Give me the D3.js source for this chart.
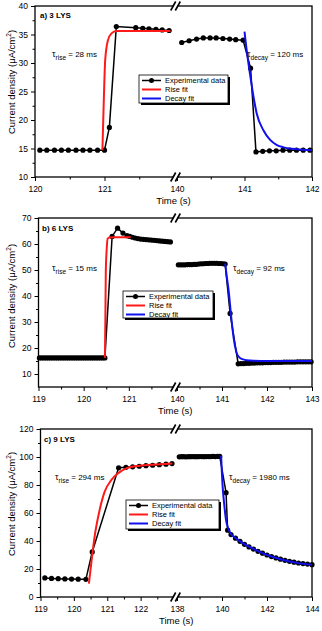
<!DOCTYPE html>
<html>
<head>
<meta charset="utf-8">
<script src="https://cdn.jsdelivr.net/npm/d3@7"></script>
<style>
  body { margin: 0; background: #fff; }
  svg { display: block; }
</style>
</head>
<body>
<script>
// ---- data: [time (s), current density (uA/cm2)] ----

// a) 3 LYS
var aExpLeft = [[120.07,14.7],[120.17,14.7],[120.28,14.7],[120.38,14.7],[120.48,14.7],[120.59,14.7],[120.69,14.7],[120.79,14.7],[120.9,14.7],[121.0,14.7],
  [121.07,18.7],[121.17,36.4],[121.45,36.2],[121.55,36.1],[121.64,36.0],[121.74,35.9],[121.83,35.8],[121.93,35.7]];
var aExpRight = [[140.07,33.6],[140.18,33.9],[140.29,34.2],[140.39,34.4],[140.49,34.4],[140.58,34.4],[140.68,34.3],[140.78,34.2],[140.87,34.1],[140.98,34.0],
  [141.09,29.1],[141.17,14.4],[141.27,14.5],[141.37,14.6],[141.47,14.6],[141.57,14.7],[141.67,14.7],[141.77,14.7],[141.87,14.7],[141.97,14.7]];
var aRiseFit = [[120.97,14.7],[120.99,23.5],[121.01,30.5],[121.05,34.0],[121.1,35.2],[121.17,35.6],[121.3,35.6],[121.95,35.6]];
var aDecayFit = [[141.0,35.5],[141.04,31.5],[141.08,28.2],[141.13,24.3],[141.18,21.2],[141.28,18.2],[141.38,16.5],[141.48,15.6],[141.58,15.2],[141.7,14.95],[141.85,14.8],[142.0,14.7]];

// b) 6 LYS
var bExpLeft = [[119.02,16.2],[119.07,16.2],[119.12,16.2],[119.17,16.2],[119.22,16.2],[119.27,16.2],[119.32,16.2],[119.37,16.2],[119.42,16.2],[119.47,16.2],
  [119.52,16.2],[119.57,16.2],[119.62,16.2],[119.67,16.2],[119.72,16.2],[119.77,16.2],[119.82,16.2],[119.87,16.2],[119.92,16.2],[119.97,16.2],
  [120.02,16.2],[120.07,16.2],[120.12,16.2],[120.17,16.2],[120.22,16.2],[120.27,16.2],[120.32,16.2],[120.37,16.2],[120.42,16.2],[120.47,16.2],
  [120.63,62.9],[120.75,66.1],[120.87,64.2],[120.96,63.2],[121.02,62.9],[121.08,62.6],[121.14,62.3],[121.2,62.1],[121.26,61.9],[121.32,61.8],
  [121.38,61.7],[121.44,61.6],[121.5,61.5],[121.56,61.4],[121.62,61.3],[121.68,61.2],[121.74,61.1],[121.8,61.0],[121.86,60.9],[121.92,60.8]];
var bExpRight = [[140.03,52.0],[140.08,52.0],[140.13,52.0],[140.18,52.0],[140.23,52.1],[140.28,52.1],[140.33,52.1],[140.38,52.2],[140.43,52.2],[140.48,52.3],
  [140.53,52.4],[140.58,52.4],[140.63,52.5],[140.68,52.5],[140.73,52.6],[140.78,52.6],[140.83,52.6],[140.88,52.6],[140.93,52.5],[140.98,52.5],[141.03,52.4],[141.07,52.3],
  [141.18,33.3],[141.36,13.9],[141.42,14.0],[141.48,14.0],[141.54,14.1],[141.6,14.1],[141.66,14.2],[141.72,14.2],[141.78,14.3],[141.84,14.3],[141.9,14.3],
  [141.96,14.4],[142.02,14.4],[142.08,14.4],[142.14,14.5],[142.2,14.5],[142.26,14.5],[142.32,14.5],[142.38,14.6],[142.44,14.6],[142.5,14.6],[142.56,14.6],
  [142.62,14.6],[142.68,14.7],[142.74,14.7],[142.8,14.7],[142.86,14.7],[142.92,14.7],[142.98,14.7]];
var bRiseFit = [[120.47,16.2],[120.48,30.0],[120.49,49.4],[120.51,58.0],[120.53,62.0],[120.57,62.5],[120.7,62.6],[121.04,62.6]];
var bDecayFit = [[141.07,52.5],[141.11,47.0],[141.15,41.7],[141.2,32.7],[141.26,23.7],[141.33,17.9],[141.39,16.3],[141.45,15.7],[141.55,15.3],[141.63,15.2],[142.0,15.0],[143.0,15.0]];

// c) 9 LYS
var cExpLeft = [[119.13,13.6],[119.33,13.3],[119.53,13.1],[119.73,12.9],[119.93,12.8],[120.13,12.7],[120.36,12.6],
  [120.55,32.2],[121.34,92.3],[121.56,92.6],[121.76,93.0],[121.96,93.4],[122.16,93.8],[122.36,94.1],[122.56,94.5],[122.76,94.9],[122.94,95.3]];
var cExpRight = [[138.1,100.1],[138.2,100.2],[138.3,100.2],[138.4,100.1],[138.5,100.2],[138.6,100.2],[138.7,100.3],[138.8,100.2],[138.9,100.2],[139.0,100.3],
  [139.1,100.3],[139.2,100.2],[139.3,100.3],[139.4,100.3],[139.5,100.3],[139.6,100.4],[139.7,100.3],[139.8,100.4],[139.9,100.4],
  [140.18,74.5],[140.25,47.7],[140.4,44.6],[140.6,42.0],[140.8,39.8],[141.0,37.6],[141.2,35.8],[141.4,34.2],[141.6,32.6],[141.8,31.3],[142.0,30.0],
  [142.2,28.9],[142.4,27.9],[142.6,27.0],[142.8,26.2],[143.0,25.5],[143.2,24.9],[143.4,24.3],[143.6,23.9],[143.8,23.5],[144.0,23.1]];
var cRiseFit = [[120.45,9.6],[120.52,23.9],[120.62,43.0],[120.77,62.0],[120.92,75.1],[121.12,83.5],[121.32,88.3],[121.57,91.9],[121.96,93.8],[122.46,94.7],[122.95,95.4]];
var cDecayFit = [[139.96,101.0],[140.03,78.7],[140.1,66.0],[140.18,54.9],[140.28,48.9],[140.4,45.0],[140.6,42.2],[141.0,37.8],[141.4,34.3],[141.8,31.3],
  [142.2,28.9],[142.6,27.0],[143.0,25.4],[143.4,24.2],[144.0,23.0]];

// tick values
var aXMajorL = [120, 121], aXMinorL = [120.5, 121.5], aXMajorR = [140, 141, 142], aXMinorR = [140.5, 141.5];
var aYMajor = [10, 15, 20, 25, 30, 35, 40], aYMinor = [12.5, 17.5, 22.5, 27.5, 32.5, 37.5];
var bXMajorL = [119, 120, 121], bXMinorL = [119.5, 120.5, 121.5], bXMajorR = [140, 141, 142, 143], bXMinorR = [140.5, 141.5, 142.5];
var bYMajor = [10, 20, 30, 40, 50, 60, 70], bYMinor = [15, 25, 35, 45, 55, 65];
var cXMajorL = [119, 120, 121, 122], cXMinorL = [119.5, 120.5, 121.5, 122.5], cXMajorR = [138, 140, 142, 144], cXMinorR = [139, 141, 143];
var cYMajor = [0, 20, 40, 60, 80, 100, 120], cYMinor = [10, 30, 50, 70, 90, 110];

var legendLabels = ["Experimental data", "Rise fit", "Decay fit"];

var FONT = 'Arial, "Liberation Sans", sans-serif';

var svg = d3.select("body")
            .append("svg")
            .attr("width", 322)
            .attr("height", 631)
            .style("font-family", FONT);

drawPanel = (p) => {
    const g = svg.append("g");

    const xL = d3.scaleLinear().domain(p.leftDom).range([p.left, p.brk[0]]);
    const xR = d3.scaleLinear().domain(p.rightDom).range([p.brk[1], p.right]);
    const xs = (t) => t < p.rightDom[0] ? xL(t) : xR(t);
    const y = d3.scaleLinear().domain(p.yDom).range([p.bottom, p.top]);

    // axes (ticks only, frame drawn separately)
    const styleAxis = (sel) => {
      sel.select(".domain").remove();
      sel.selectAll("line").attr("stroke-width", 1);
      sel.selectAll("text").attr("font-size", 8.5).attr("font-family", FONT).attr("fill", "#000");
    };
    [[xL, p.xMajorL, p.xMinorL], [xR, p.xMajorR, p.xMinorR]].forEach(([sc, maj, min]) => {
      g.append("g").attr("transform", "translate(0," + p.bottom + ")")
       .call(d3.axisBottom(sc).tickValues(maj).tickSize(4).tickPadding(5).tickSizeOuter(0).tickFormat(d3.format("")))
       .call(styleAxis);
      g.append("g").attr("transform", "translate(0," + p.bottom + ")")
       .call(d3.axisBottom(sc).tickValues(min).tickSize(2.5).tickSizeOuter(0).tickFormat(() => ""))
       .call(styleAxis);
    });
    g.append("g").attr("transform", "translate(" + p.left + ",0)")
     .call(d3.axisLeft(y).tickValues(p.yMajor).tickSize(4).tickSizeOuter(0))
     .call(styleAxis);
    g.append("g").attr("transform", "translate(" + p.left + ",0)")
     .call(d3.axisLeft(y).tickValues(p.yMinor).tickSize(2.5).tickSizeOuter(0).tickFormat(() => ""))
     .call(styleAxis);

    // frame
    g.append("rect")
     .attr("x", p.left).attr("y", p.top)
     .attr("width", p.right - p.left).attr("height", p.bottom - p.top)
     .attr("fill", "none").attr("stroke", "#000").attr("stroke-width", 1.3);

    // axis break marks
    const cx = (p.brk[0] + p.brk[1]) / 2;
    [p.top, p.bottom].forEach((yy) => {
      g.append("rect").attr("x", cx - 2).attr("y", yy - 2).attr("width", 4).attr("height", 4).attr("fill", "#fff");
      [-2.3, 2.3].forEach((o) => {
        g.append("line")
         .attr("x1", cx + o - 2.5).attr("y1", yy + 4.5)
         .attr("x2", cx + o + 2.5).attr("y2", yy - 4.5)
         .attr("stroke", "#000").attr("stroke-width", 1.6);
      });
    });

    // experimental data
    const line = d3.line().x(d => xs(d[0])).y(d => y(d[1]));
    [p.expL, p.expR].forEach((seg) => {
      g.append("path").datum(seg).attr("d", line)
       .attr("fill", "none").attr("stroke", "#000").attr("stroke-width", 1.5);
      g.selectAll(null).data(seg).enter().append("circle")
       .attr("cx", d => xs(d[0])).attr("cy", d => y(d[1])).attr("r", 2.6).attr("fill", "#000");
    });

    // fits
    const fitLine = d3.line().x(d => xs(d[0])).y(d => y(d[1])).curve(d3.curveMonotoneX);
    g.append("path").datum(p.rise).attr("d", fitLine)
     .attr("fill", "none").attr("stroke", "#ff1a1a").attr("stroke-width", 2);
    g.append("path").datum(p.decay).attr("d", fitLine)
     .attr("fill", "none").attr("stroke", "#1010ee").attr("stroke-width", 2);

    // panel label
    g.append("text").attr("x", p.labelPos[0]).attr("y", p.labelPos[1])
     .attr("font-size", 8).attr("font-weight", "bold").text(p.label);

    // tau annotations
    const tau = (pos, sub, rest) => {
      const t = g.append("text").attr("x", pos[0]).attr("y", pos[1]).attr("font-size", 8);
      t.append("tspan").attr("font-size", 9).text("\u03c4");
      t.append("tspan").attr("font-size", 6.5).attr("dy", 2.5).text(sub);
      t.append("tspan").attr("dy", -2.5).text(" = " + rest);
    };
    tau(p.tauRisePos, "rise", p.tauRise);
    tau(p.tauDecayPos, "decay", p.tauDecay);

    // legend
    const lg = g.append("g").attr("transform", "translate(" + p.legend[0] + "," + p.legend[1] + ")");
    lg.append("rect").attr("x", 2).attr("y", 2).attr("width", p.legend[2]).attr("height", p.legend[3]).attr("fill", "#000");
    lg.append("rect").attr("width", p.legend[2]).attr("height", p.legend[3])
      .attr("fill", "#fff").attr("stroke", "#000").attr("stroke-width", 0.8);
    const colors = ["#000", "#ff1a1a", "#1010ee"];
    legendLabels.forEach((lab, i) => {
      const ry = 5.5 + i * 9;
      lg.append("line").attr("x1", 3).attr("x2", 22).attr("y1", ry).attr("y2", ry)
        .attr("stroke", colors[i]).attr("stroke-width", i === 0 ? 1.5 : 2);
      if (i === 0) lg.append("circle").attr("cx", 12.5).attr("cy", ry).attr("r", 2.5).attr("fill", "#000");
      lg.append("text").attr("x", 26).attr("y", ry).attr("dy", "0.35em").attr("font-size", 7.5).text(lab);
    });

    // axis titles
    g.append("text").attr("x", (p.left + p.right) / 2).attr("y", p.bottom + 27)
     .attr("text-anchor", "middle").attr("font-size", 9.5).text("Time (s)");
    const yt = g.append("text")
     .attr("transform", "translate(14.5," + p.yTitleY + ") rotate(-90)")
     .attr("text-anchor", "middle").attr("font-size", 9.5);
    yt.append("tspan").text("Current density (\u03bcA/cm");
    yt.append("tspan").attr("font-size", 6.5).attr("dy", -3.5).text("2");
    yt.append("tspan").attr("dy", 3.5).text(")");
}

drawPanel({
  top: 6, bottom: 177, left: 35, right: 312, brk: [174, 177],
  leftDom: [120, 122], rightDom: [140, 142], yDom: [10, 40],
  xMajorL: aXMajorL, xMinorL: aXMinorL, xMajorR: aXMajorR, xMinorR: aXMinorR,
  yMajor: aYMajor, yMinor: aYMinor,
  expL: aExpLeft, expR: aExpRight, rise: aRiseFit, decay: aDecayFit,
  label: "a) 3 LYS", labelPos: [40, 17.5],
  tauRise: "28 ms", tauRisePos: [52, 57], tauDecay: "120 ms", tauDecayPos: [247, 57],
  legend: [139, 75, 89, 28], yTitleY: 82
});

drawPanel({
  top: 218, bottom: 387, left: 38.5, right: 312, brk: [174, 177],
  leftDom: [119, 122], rightDom: [140, 143], yDom: [5, 70],
  xMajorL: bXMajorL, xMinorL: bXMinorL, xMajorR: bXMajorR, xMinorR: bXMinorR,
  yMajor: bYMajor, yMinor: bYMinor,
  expL: bExpLeft, expR: bExpRight, rise: bRiseFit, decay: bDecayFit,
  label: "b) 6 LYS", labelPos: [42, 231],
  tauRise: "15 ms", tauRisePos: [52, 271], tauDecay: "92 ms", tauDecayPos: [233, 271],
  legend: [123, 291, 90, 27], yTitleY: 296
});

drawPanel({
  top: 429, bottom: 597, left: 40.5, right: 312, brk: [174, 177],
  leftDom: [119, 123], rightDom: [138, 144], yDom: [0, 120],
  xMajorL: cXMajorL, xMinorL: cXMinorL, xMajorR: cXMajorR, xMinorR: cXMinorR,
  yMajor: cYMajor, yMinor: cYMinor,
  expL: cExpLeft, expR: cExpRight, rise: cRiseFit, decay: cDecayFit,
  label: "c) 9 LYS", labelPos: [44, 442],
  tauRise: "294 ms", tauRisePos: [55, 480], tauDecay: "1980 ms", tauDecayPos: [229, 480],
  legend: [126, 500, 93, 29], yTitleY: 504
});
</script>
</body>
</html>
